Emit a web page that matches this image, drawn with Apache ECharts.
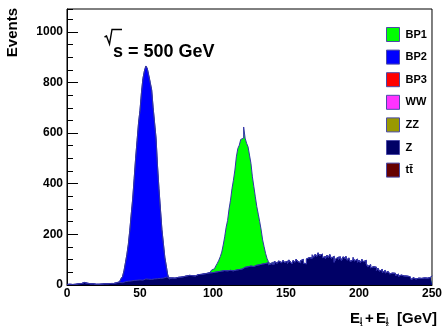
<!DOCTYPE html>
<html>
<head>
<meta charset="utf-8">
<script src="https://cdn.jsdelivr.net/npm/echarts@6/dist/echarts.min.js"></script>
<style>
  html, body { margin: 0; padding: 0; background: #fff; }
  #chart { width: 445px; height: 329px; }
</style>
</head>
<body>
<div id="chart"></div>
<script>
// 1 GeV bins from 0 to 250
const binStart = 0
const binWidth = 1

// Z background, one value per bin
const zValues = [
  2, 3, 3, 2, 4, 3, 4, 5, 4, 6,
  8, 10, 9, 7, 6, 5, 4, 5, 4, 3,
  4, 3, 5, 4, 3, 5, 6, 5, 7, 6,
  7, 6, 8, 9, 8, 10, 11, 9, 12, 13,
  12, 15, 14, 16, 15, 18, 17, 19, 18, 20,
  21, 19, 22, 24, 21, 23, 25, 22, 26, 24,
  27, 25, 28, 26, 30, 27, 29, 31, 28, 30,
  24, 28, 31, 27, 32, 30, 34, 31, 35, 33,
  32, 36, 34, 38, 35, 37, 40, 36, 39, 41,
  38, 42, 40, 44, 41, 46, 43, 48, 45, 49,
  47, 51, 48, 53, 50, 55, 52, 57, 54, 56,
  53, 58, 60, 56, 62, 59, 64, 61, 66, 63,
  62, 70, 64, 72, 66, 75, 68, 73, 70, 78,
  71, 80, 74, 83, 76, 85, 78, 88, 80, 84,
  90, 82, 93, 86, 80, 95, 88, 84, 97, 89,
  94, 85, 99, 91, 83, 98, 90, 102, 93, 88,
  96, 101, 86, 84, 103, 108, 115, 106, 119, 110,
  121, 113, 127, 117, 122, 108, 112, 104, 118, 109,
  120, 106, 113, 90, 103, 110, 101, 112, 96, 111,
  104, 113, 98, 107, 93, 99, 108, 95, 102, 90,
  98, 88, 101, 92, 97, 84, 73, 80, 68, 72,
  65, 70, 58, 66, 55, 61, 50, 57, 48, 53,
  50, 44, 47, 41, 46, 38, 43, 35, 39, 33,
  36, 31, 35, 28, 33, 26, 20, 29, 24, 30,
  27, 32, 26, 30, 28, 33, 27, 31, 30, 36,
]

// BP2 signal, bins 34..69
const bp2FirstBin = 34
const bp2Values = [
  2, 3, 7, 16, 21, 42, 75, 105, 146, 199,
  265, 322, 403, 481, 552, 620, 669, 741, 793, 821,
  844, 832, 803, 778, 744, 676, 613, 555, 442, 354,
  270, 193, 136, 79, 47, 10,
]

// BP1 signal, bins 96..138
const bp1FirstBin = 96
const bp1Values = [
  3, 2, 9, 10, 17, 19, 28, 33, 48, 57,
  78, 101, 136, 172, 202, 242, 275, 324, 352, 395,
  442, 478, 486, 512, 518, 554, 516, 488, 480, 438,
  412, 354, 318, 270, 239, 200, 176, 134, 102, 66,
  47, 17, 12,
]

const legendNames = ["BP1", "BP2", "BP3", "WW", "ZZ", "Z", "tt\u0304"]
const colors = {
  BP1: "#00ff00",
  BP2: "#0000ff",
  BP3: "#ff0000",
  WW: "#ff33ff",
  ZZ: "#999900",
  Z: "#000066",
  "tt\u0304": "#660000",
}

const xMin = 0
const xMax = 250
const yMax = 1090
const outline = "#3434a8"
const font = "Liberation Sans, Arial, sans-serif"

// place a signal on the full bin range
function spread(values, firstBin) {
  const full = zValues.map(() => 0)
  values.forEach((v, i) => {
    full[firstBin + i] = v
  })
  return full
}

// stacked like a THStack: each layer is the sum of itself and everything below
const zStack = zValues.slice()
const bp2Stack = spread(bp2Values, bp2FirstBin).map((v, i) => v + zStack[i])
const bp1Stack = spread(bp1Values, bp1FirstBin).map((v, i) => v + bp2Stack[i])

// bins -> step points (lower edges + closing edge)
function toSteps(full) {
  const pts = full.map((v, i) => [binStart + i * binWidth, v])
  pts.push([binStart + full.length * binWidth, full[full.length - 1]])
  return pts
}

function histSeries(name, full) {
  return {
    name,
    type: "line",
    step: "end",
    symbol: "none",
    silent: true,
    itemStyle: { color: colors[name] },
    lineStyle: { color: outline, width: 1 },
    areaStyle: { color: colors[name], opacity: 1 },
    data: toSteps(full),
  }
}

function emptySeries(name) {
  return {
    name,
    type: "line",
    symbol: "none",
    itemStyle: { color: colors[name] },
    data: [],
  }
}

const chart = echarts.init(document.getElementById("chart"), null, { renderer: "canvas" })

const boldText = { fontFamily: font, fontWeight: "bold", fill: "#000" }

chart.setOption({
  animation: false,
  backgroundColor: "#fff",
  grid: {
    left: 67,
    top: 9,
    width: 369,
    height: 276,
    show: true,
    borderColor: "#000",
    borderWidth: 1,
    backgroundColor: "transparent",
  },
  legend: {
    orient: "vertical",
    left: 381,
    top: 22,
    data: legendNames,
    icon: "rect",
    itemWidth: 13,
    itemHeight: 14,
    itemGap: 7.6,
    selectedMode: false,
    itemStyle: { borderColor: "#4a4aa8", borderWidth: 1 },
    textStyle: { fontFamily: font, fontWeight: "bold", fontSize: 11, color: "#000", padding: [0, 0, 0, 1] },
  },
  xAxis: {
    type: "value",
    min: xMin,
    max: xMax,
    interval: 50,
    axisLine: { show: true, lineStyle: { color: "#000", width: 1 } },
    axisTick: { show: false },
    splitLine: { show: false },
    axisLabel: {
      margin: 3,
      color: "#000",
      fontFamily: font,
      fontWeight: "bold",
      fontSize: 12,
    },
  },
  yAxis: [
    {
      type: "value",
      position: "left",
      min: 0,
      max: yMax,
      interval: 200,
      axisLine: { show: true, lineStyle: { color: "#000", width: 1 } },
      axisTick: { show: true, inside: true, length: 11, lineStyle: { color: "#000" } },
      splitLine: { show: false },
      axisLabel: {
        showMaxLabel: false,
        margin: 4,
        color: "#000",
        fontFamily: font,
        fontWeight: "bold",
        fontSize: 12,
        formatter: (v) => String(v),
      },
    },
    {
      type: "value",
      position: "left",
      min: 0,
      max: yMax,
      interval: 50,
      axisLine: { show: false },
      axisTick: { show: true, inside: true, length: 6, lineStyle: { color: "#000" } },
      splitLine: { show: false },
      axisLabel: { show: false },
    },
  ],
  series: [
    histSeries("BP1", bp1Stack),
    histSeries("BP2", bp2Stack),
    histSeries("Z", zStack),
    emptySeries("BP3"),
    emptySeries("WW"),
    emptySeries("ZZ"),
    emptySeries("tt\u0304"),
  ],
  graphic: [
    {
      type: "text",
      x: 13,
      y: 8,
      rotation: Math.PI / 2,
      style: { ...boldText, text: "Events", fontSize: 15, align: "right", verticalAlign: "middle" },
    },
    {
      type: "polyline",
      shape: { points: [[104.5, 37], [106.5, 36], [109.5, 44], [112, 29.5], [122, 29.5]] },
      style: { stroke: "#000", lineWidth: 1.4, fill: null },
    },
    {
      type: "text",
      x: 113,
      y: 43,
      style: { ...boldText, text: "s = 500 GeV", fontSize: 18, verticalAlign: "alphabetic" },
    },
    { type: "text", x: 350, y: 311, style: { ...boldText, text: "E", fontSize: 15, verticalAlign: "alphabetic" } },
    { type: "text", x: 360, y: 316, style: { ...boldText, text: "j", fontSize: 8, verticalAlign: "alphabetic" } },
    { type: "text", x: 360, y: 322.5, style: { ...boldText, text: "1", fontSize: 5, verticalAlign: "alphabetic" } },
    { type: "text", x: 365, y: 311, style: { ...boldText, text: "+", fontSize: 15, verticalAlign: "alphabetic" } },
    { type: "text", x: 376, y: 311, style: { ...boldText, text: "E", fontSize: 15, verticalAlign: "alphabetic" } },
    { type: "text", x: 386, y: 316, style: { ...boldText, text: "j", fontSize: 8, verticalAlign: "alphabetic" } },
    { type: "text", x: 386, y: 322.5, style: { ...boldText, text: "2", fontSize: 5, verticalAlign: "alphabetic" } },
    { type: "text", x: 437, y: 311, style: { ...boldText, text: "[GeV]", fontSize: 15, align: "right", verticalAlign: "alphabetic" } },
  ],
})
</script>
</body>
</html>
